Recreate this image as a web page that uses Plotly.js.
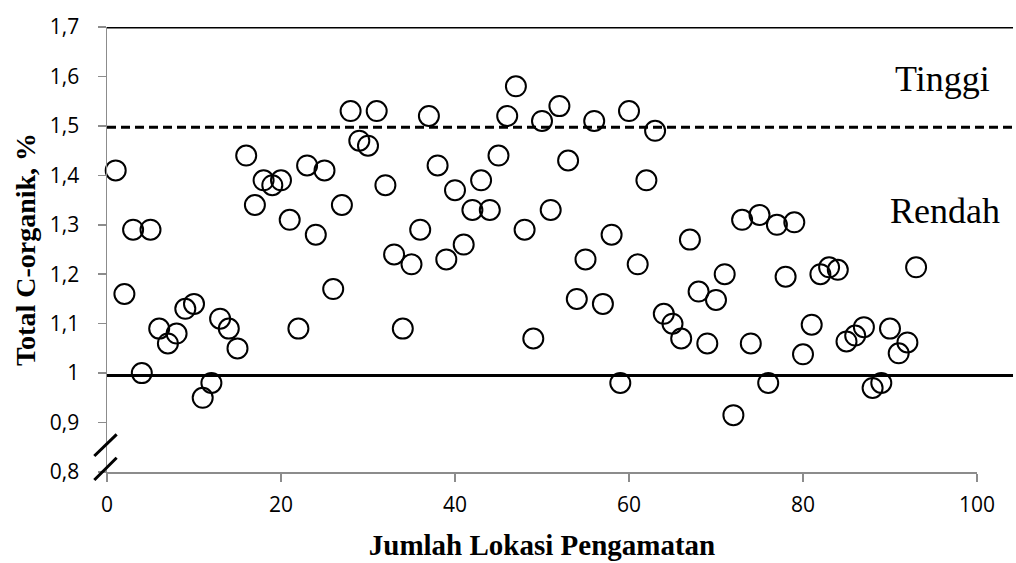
<!DOCTYPE html>
<html>
<head>
<meta charset="utf-8">
<script src="https://cdn.plot.ly/plotly-3.0.1.min.js"></script>
<style>html,body{margin:0;padding:0;background:#fff;}#chart{width:1016px;height:563px;}</style>
</head>
<body>
<div id="chart"></div>
<script>
// Observation location index
const lokasi = [1,2,3,4,5,6,7,8,9,10,11,12,13,14,15,16,17,18,19,20,21,22,23,24,25,26,27,28,29,30,31,32,33,34,35,36,37,38,39,40,41,42,43,44,45,46,47,48,49,50,51,52,53,54,55,56,57,58,59,60,61,62,63,64,65,66,67,68,69,70,71,72,73,74,75,76,77,78,79,80,81,82,83,84,85,86,87,88,89,90,91,92,93];
// Total C-organik (%)
const cOrganik = [1.41,1.16,1.29,1.00,1.29,1.09,1.06,1.08,1.13,1.14,0.95,0.98,1.11,1.09,1.05,1.44,1.34,1.39,1.38,1.39,1.31,1.09,1.42,1.28,1.41,1.17,1.34,1.53,1.47,1.46,1.53,1.38,1.24,1.09,1.22,1.29,1.52,1.42,1.23,1.37,1.26,1.33,1.39,1.33,1.44,1.52,1.58,1.29,1.07,1.51,1.33,1.54,1.43,1.15,1.23,1.51,1.14,1.28,0.98,1.53,1.22,1.39,1.49,1.12,1.10,1.07,1.27,1.165,1.06,1.148,1.20,0.915,1.31,1.06,1.32,0.98,1.30,1.195,1.305,1.038,1.098,1.20,1.214,1.209,1.064,1.076,1.093,0.97,0.98,1.09,1.04,1.062,1.214];
// Class boundaries and labels
const batasAtas = 1.7;
const batasTinggi = 1.497;
const batasRendah = 0.995;
const kelasLabel = ['Tinggi', 'Rendah'];
const kelasY = [1.595, 1.328];
const kelasX = [96.0, 96.3];
const yTicks = [0.8,0.9,1.0,1.1,1.2,1.3,1.4,1.5,1.6,1.7];
const xTicks = [0,20,40,60,80,100];

const trace = {
  type: 'scatter',
  mode: 'markers',
  x: lokasi,
  y: cOrganik,
  marker: {symbol: 'circle-open', size: 20, color: '#000', line: {width: 2, color: '#000'}},
  cliponaxis: false,
  showlegend: false,
  hoverinfo: 'x+y'
};

const hline = (y, dash) => ({
  type: 'line', xref: 'paper', yref: 'y', x0: 0, x1: 1.0414, y0: y, y1: y,
  line: {color: '#000', width: 3, dash: dash}
});

const tickFont = {size: 21, family: '"Open Sans", "Liberation Sans", Arial, sans-serif', color: '#000'};

const layout = {
  width: 1016, height: 563,
  margin: {l: 107, r: 39, t: 27, b: 91},
  paper_bgcolor: '#fff', plot_bgcolor: '#fff',
  separators: ', ',
  font: {family: '"Open Sans", "Liberation Sans", Arial, sans-serif', color: '#000'},
  xaxis: {
    range: [0, 100], tickvals: xTicks, ticktext: xTicks.map(String),
    showgrid: false, zeroline: false, showline: true, linecolor: '#8c8c8c', linewidth: 1.5,
    ticks: 'outside', ticklen: 8, tickwidth: 1.5, tickcolor: '#8c8c8c',
    tickfont: tickFont,
    ticklabelstandoff: 5,
    title: {text: 'Jumlah Lokasi Pengamatan', font: {family: '"Liberation Serif", "Times New Roman", serif', size: 29, color: '#000', weight: 'bold'}, standoff: 18}
  },
  yaxis: {
    range: [0.8, 1.7], tickvals: yTicks, ticktext: yTicks.map(v => (Math.round(v*10)/10).toString().replace('.', ',')),
    showgrid: false, zeroline: false, showline: true, linecolor: '#8c8c8c', linewidth: 1.5,
    ticks: 'outside', ticklen: 8, tickwidth: 1.5, tickcolor: '#8c8c8c',
    tickfont: tickFont,
    ticklabelstandoff: 14,
    title: {text: 'Total C-organik, %', font: {family: '"Liberation Serif", "Times New Roman", serif', size: 28, color: '#000', weight: 'bold'}, standoff: 6}
  },
  shapes: [
    hline(batasAtas, 'solid'),
    hline(batasTinggi, '9px,5px'),
    hline(batasRendah, 'solid'),
    {type: 'line', xref: 'paper', yref: 'paper', x0: -0.0146, y0: 0.036, x1: 0.0111, y1: 0.0847, line: {color: '#000', width: 3}},
    {type: 'line', xref: 'paper', yref: 'paper', x0: -0.0146, y0: -0.018, x1: 0.0111, y1: 0.032, line: {color: '#000', width: 3}}
  ],
  annotations: kelasLabel.map((t, i) => ({
    text: t, x: kelasX[i], y: kelasY[i], xref: 'x', yref: 'y', showarrow: false,
    xanchor: 'center', yanchor: 'middle',
    font: {family: '"Liberation Serif", "Times New Roman", serif', size: 36, color: '#000'}
  }))
};

Plotly.newPlot('chart', [trace], layout, {displayModeBar: false, staticPlot: true});
</script>
</body>
</html>
